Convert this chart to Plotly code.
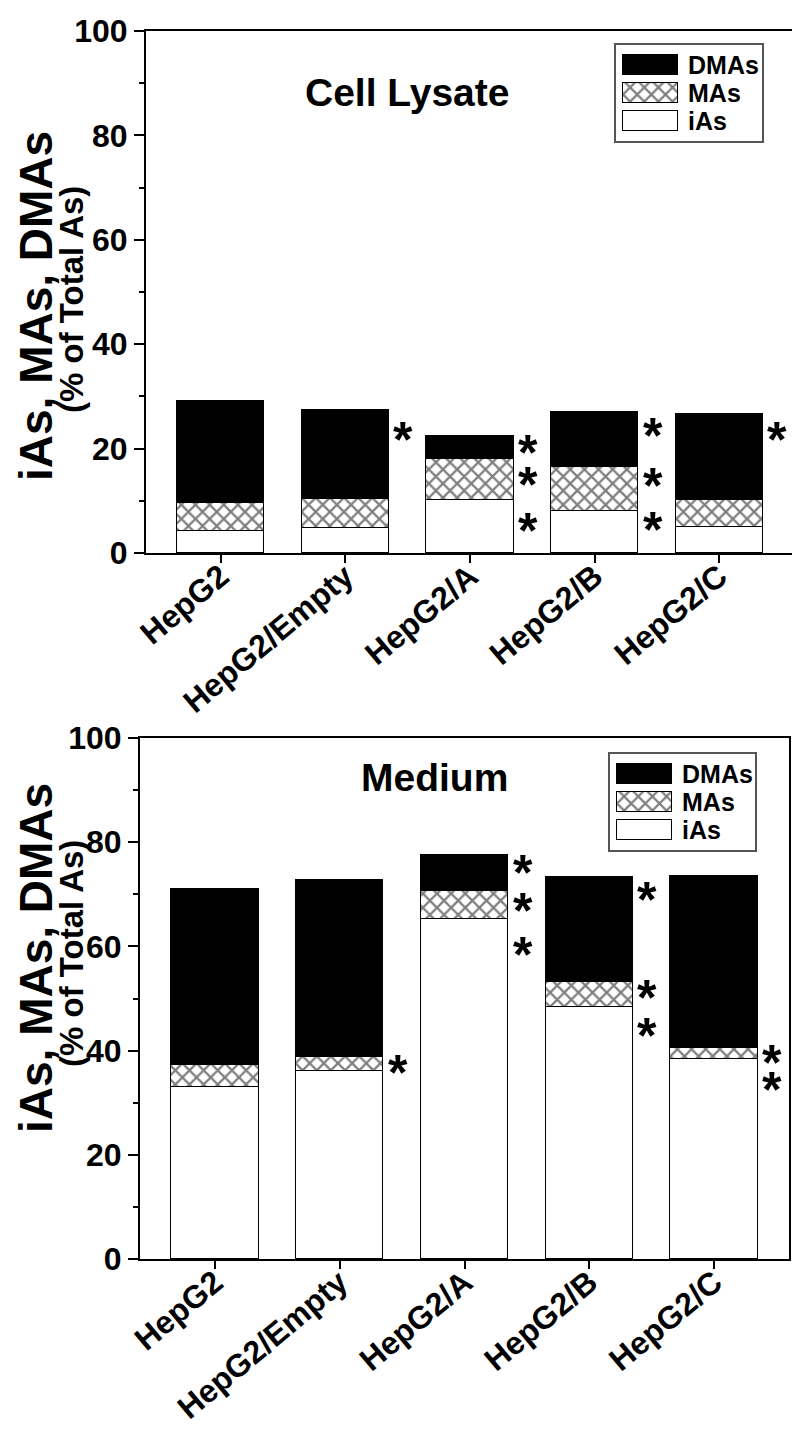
import plotly.graph_objects as go

# ---------------- data ----------------
categories = ["HepG2", "HepG2/Empty", "HepG2/A", "HepG2/B", "HepG2/C"]
series_names = ["DMAs", "MAs", "iAs"]

# Cell lysate (% of total As), stacked segments
lysate_ias = [4.3, 4.8, 10.1, 8.1, 5.0]
lysate_mas = [5.3, 5.5, 7.9, 8.4, 5.2]
lysate_dmas = [19.5, 17.0, 4.5, 10.5, 16.4]

# Medium (% of total As), stacked segments
medium_ias = [33.1, 36.0, 65.3, 48.4, 38.3]
medium_mas = [4.1, 2.8, 5.4, 4.8, 2.2]
medium_dmas = [33.8, 34.0, 6.9, 20.1, 33.0]

# significance asterisks (category, level)
lysate_star_cat = ["HepG2/Empty", "HepG2/A", "HepG2/A", "HepG2/A",
                   "HepG2/B", "HepG2/B", "HepG2/B", "HepG2/C"]
lysate_star_y = [23.6, 21.1, 15.0, 6.1, 24.3, 14.7, 6.4, 23.6]
medium_star_cat = ["HepG2/Empty", "HepG2/A", "HepG2/A", "HepG2/A",
                   "HepG2/B", "HepG2/B", "HepG2/B", "HepG2/C", "HepG2/C"]
medium_star_y = [37.6, 76.0, 68.7, 60.3, 70.9, 52.0, 44.7, 39.5, 34.4]

y_ticks = [0, 20, 40, 60, 80, 100]

# ---------------- style ----------------
W, H = 800, 1429
FONT = "Arial, Liberation Sans, Helvetica, sans-serif"
styles = {
    "DMAs": dict(color="black", line=dict(color="black", width=1.2)),
    "MAs": dict(color="white", line=dict(color="black", width=1.2),
                pattern=dict(shape="x", fgcolor="black", bgcolor="white",
                             size=10, solidity=0.4, fillmode="overlay")),
    "iAs": dict(color="white", line=dict(color="black", width=1.2)),
}

fig = go.Figure()
xpos = list(range(len(categories)))


def px_to_paper_x(px):
    return px / W


def px_to_paper_y(py):
    return 1 - py / H


panels = [
    dict(xa="x", ya="y", ias=lysate_ias, mas=lysate_mas, dmas=lysate_dmas,
         scat=lysate_star_cat, sy=lysate_star_y,
         frame=(138, 786, 23, 545), title="Cell Lysate", title_xy=(399, 84),
         ytl=(28, 298), ytl2=(63, 292),
         legend=(608, 754, 37, 133), lax="x3", lay="y3"),
    dict(xa="x2", ya="y2", ias=medium_ias, mas=medium_mas, dmas=medium_dmas,
         scat=medium_star_cat, sy=medium_star_y,
         frame=(132, 781, 730, 1251), title="Medium", title_xy=(426, 769),
         ytl=(28, 950), ytl2=(63, 946),
         legend=(602, 747, 746, 842), lax="x4", lay="y4"),
]

annotations = []
for p in panels:
    seg = {"iAs": p["ias"], "MAs": p["mas"], "DMAs": p["dmas"]}
    for name in ["iAs", "MAs", "DMAs"]:
        fig.add_trace(go.Bar(x=xpos, y=seg[name], name=name, width=0.7,
                             marker=styles[name], xaxis=p["xa"], yaxis=p["ya"],
                             showlegend=False))
    sx = [categories.index(c) + 0.465 for c in p["scat"]]
    for x, y in zip(sx, p["sy"]):
        annotations.append(dict(x=x, y=y, xref=p["xa"], yref=p["ya"], text="*",
                                showarrow=False, yshift=-10, xanchor="center", yanchor="middle",
                                font=dict(family=FONT, size=50, color="black", weight="bold")))
    # panel title
    annotations.append(dict(x=px_to_paper_x(p["title_xy"][0]), y=px_to_paper_y(p["title_xy"][1]),
                            xref="paper", yref="paper", text=p["title"], showarrow=False,
                            xanchor="center", yanchor="middle",
                            font=dict(family=FONT, size=39, color="black", weight="bold")))
    # y-axis titles
    annotations.append(dict(x=px_to_paper_x(p["ytl"][0]), y=px_to_paper_y(p["ytl"][1]),
                            xref="paper", yref="paper", text="iAs, MAs, DMAs", textangle=-90,
                            showarrow=False, xanchor="center", yanchor="middle",
                            font=dict(family=FONT, size=46, color="black", weight="bold")))
    annotations.append(dict(x=px_to_paper_x(p["ytl2"][0]), y=px_to_paper_y(p["ytl2"][1]),
                            xref="paper", yref="paper", text="(% of Total As)", textangle=-90,
                            showarrow=False, xanchor="center", yanchor="middle",
                            font=dict(family=FONT, size=33, color="black", weight="bold")))
    # legend as an inset axis
    lx0, lx1, ly0, ly1 = p["legend"]
    lw, lh = lx1 - lx0, ly1 - ly0
    pitch = (lh - 12) / 3.0
    for i, name in enumerate(series_names):
        yc = 6 + pitch * i + pitch / 2
        fig.add_trace(go.Bar(y=[yc], x=[55], base=[7], width=pitch * 0.70, orientation="h",
                             marker=styles[name], xaxis=p["lax"], yaxis=p["lay"],
                             showlegend=False, hoverinfo="skip"))
        annotations.append(dict(x=70, y=yc, xref=p["lax"], yref=p["lay"], text=name,
                                xanchor="left", yanchor="middle", showarrow=False,
                                font=dict(family=FONT, size=25, color="black", weight="bold")))

layout = dict(
    width=W, height=H, margin=dict(l=0, r=0, t=0, b=0, autoexpand=False),
    paper_bgcolor="white", plot_bgcolor="white",
    barmode="stack", bargap=0, showlegend=False,
    annotations=annotations,
)

for p, xa, ya, xk, yk in [(panels[0], "xaxis", "yaxis", "x", "y"),
                           (panels[1], "xaxis2", "yaxis2", "x2", "y2")]:
    fx0, fx1, fy0, fy1 = p["frame"]
    layout[xa] = dict(domain=[fx0 / W, fx1 / W], anchor=yk, range=[-0.6, 4.6],
                      tickvals=xpos, ticktext=categories, tickangle=-40,
                      ticks="outside", ticklen=8, tickwidth=2, tickcolor="black",
                      ticklabelstandoff=-18,
                      showline=True, linewidth=2, linecolor="black", mirror=True,
                      showgrid=False, zeroline=False, automargin=False,
                      tickfont=dict(family=FONT, size=32, color="black", weight="bold"))
    layout[ya] = dict(domain=[1 - fy1 / H, 1 - fy0 / H], anchor=xk, range=[0, 100],
                      tickvals=y_ticks, ticks="outside", ticklen=10, tickwidth=2,
                      tickcolor="black", automargin=False,
                      minor=dict(dtick=10, tick0=0, ticks="outside", ticklen=5,
                                 tickwidth=2, tickcolor="black"),
                      showline=True, linewidth=2, linecolor="black", mirror=True,
                      showgrid=False, zeroline=False,
                      tickfont=dict(family=FONT, size=32, color="black", weight="bold"))

for p, lxa, lya, lxk, lyk in [(panels[0], "xaxis3", "yaxis3", "x3", "y3"),
                               (panels[1], "xaxis4", "yaxis4", "x4", "y4")]:
    lx0, lx1, ly0, ly1 = p["legend"]
    layout[lxa] = dict(domain=[lx0 / W, lx1 / W], anchor=lyk, range=[0, lx1 - lx0],
                       showline=True, linewidth=1.5, linecolor="#555", mirror=True,
                       showgrid=False, zeroline=False, showticklabels=False, ticks="",
                       fixedrange=True, automargin=False)
    layout[lya] = dict(domain=[1 - ly1 / H, 1 - ly0 / H], anchor=lxk,
                       range=[ly1 - ly0, 0],
                       showline=True, linewidth=1.5, linecolor="#555", mirror=True,
                       showgrid=False, zeroline=False, showticklabels=False, ticks="",
                       fixedrange=True, automargin=False)

fig.update_layout(**layout)
fig.write_html("out.html")
